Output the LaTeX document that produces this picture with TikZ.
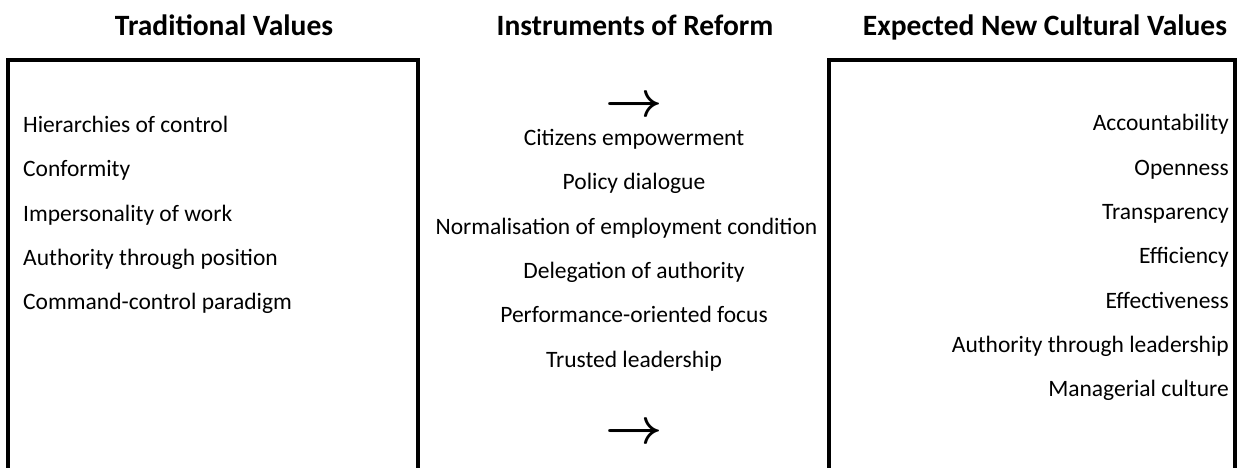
\documentclass[tikz,border=0pt]{standalone}
\usepackage{fontspec}
\setmainfont{Carlito}
\tikzset{
  head/.style={inner sep=0pt, font=\fontsize{29.5}{34}\selectfont\bfseries, anchor=base},
  lefttxt/.style={inner sep=0pt, font=\fontsize{23.5}{28}\selectfont, anchor=base west},
  midtxt/.style={inner sep=0pt, font=\fontsize{23.5}{28}\selectfont, anchor=base},
  righttxt/.style={inner sep=0pt, font=\fontsize{23.5}{28}\selectfont, anchor=base east},
  arrowtxt/.style={inner sep=0pt, font=\fontsize{20}{20}\selectfont\boldmath, scale=2.4, anchor=center},
  frame/.style={line width=4pt}
}
\begin{document}
\begin{tikzpicture}[x=1pt,y=-1pt]
\useasboundingbox (0,0) rectangle (1239,468);
% frames
\draw[frame] (8,470) -- (8,60.5) -- (418,60.5) -- (418,470);
\draw[frame] (828.5,470) -- (828.5,60.5) -- (1234.5,60.5) -- (1234.5,470);
% headers
\node[head] (h1) at (224,36) {Traditional Values};
\node[head] (h2) at (635,36) {Instruments of Reform};
\node[head] (h3) at (1045,36) {Expected New Cultural Values};
% left column
\node[lefttxt] (l1) at (23,132.5) {Hierarchies of control};
\node[lefttxt] (l2) at (23,176.8) {Conformity};
\node[lefttxt] (l3) at (23,221.1) {Impersonality of work};
\node[lefttxt] (l4) at (23,265.4) {Authority through position};
\node[lefttxt] (l5) at (23,309.7) {Command-control paradigm};
% middle column
\node[arrowtxt] (a1) at (634,107) {$\rightarrow$};
\node[midtxt] (m1) at (634,145.5) {Citizens empowerment};
\node[midtxt] (m2) at (634,189.8) {Policy dialogue};
\node[midtxt] (m3) at (626.5,234.1) {Normalisation of employment condition};
\node[midtxt] (m4) at (634,278.4) {Delegation of authority};
\node[midtxt] (m5) at (634,322.7) {Performance-oriented focus};
\node[midtxt] (m6) at (634,367) {Trusted leadership};
\node[arrowtxt] (a2) at (634,433.5) {$\rightarrow$};
% right column
\node[righttxt] (r1) at (1229,131) {Accountability};
\node[righttxt] (r2) at (1229,175.3) {Openness};
\node[righttxt] (r3) at (1229,219.6) {Transparency};
\node[righttxt] (r4) at (1229,263.9) {Efficiency};
\node[righttxt] (r5) at (1229,308.2) {Effectiveness};
\node[righttxt] (r6) at (1229,352.5) {Authority through leadership};
\node[righttxt] (r7) at (1229,396.8) {Managerial culture};
\end{tikzpicture}
\end{document}
